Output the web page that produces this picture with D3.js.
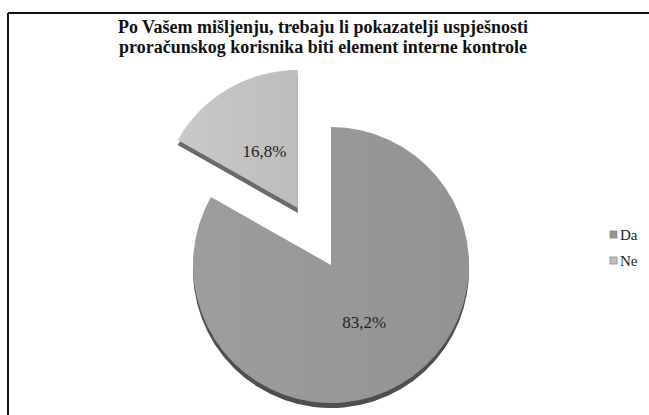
<!DOCTYPE html>
<html>
<head>
<meta charset="utf-8">
<script src="https://cdn.jsdelivr.net/npm/d3@7"></script>
<style>
    body { margin: 0; background: #fff; }
</style>
</head>
<body>
<div id="chart"></div>
<script>
const categories = ["Da", "Ne"];
const values = [83.2, 16.8];
const valueLabels = ["83,2%", "16,8%"];
const titleLines = [
    "Po Vašem mišljenju, trebaju li pokazatelji uspješnosti",
    "proračunskog korisnika biti element interne kontrole"
];

const width = 649;
const height = 415;
const cx = 331, cy = 265;
const radius = 138;
const depth = 5;
const explode = 66;
const serif = "'Liberation Serif', 'Times New Roman', serif";

const topColors = { "Da": "#969696", "Ne": "#c1c1c1" };
const sideColors = { "Da": "#4e4e4e", "Ne": "#6a6a6a" };

const svg = d3.select("#chart")
    .append("svg")
    .attr("width", width)
    .attr("height", height);

// frame (top + left lines only visible)
svg.append("line")
    .attr("x1", 8).attr("y1", 13).attr("x2", width).attr("y2", 13)
    .attr("stroke", "#111").attr("stroke-width", 2);
svg.append("line")
    .attr("x1", 8).attr("y1", 13).attr("x2", 8).attr("y2", height)
    .attr("stroke", "#111").attr("stroke-width", 2);

// title
svg.selectAll(".title")
    .data(titleLines)
    .enter()
    .append("text")
    .attr("class", "title")
    .attr("x", 323)
    .attr("y", (d, i) => 33 + i * 20)
    .attr("text-anchor", "middle")
    .attr("font-family", serif)
    .attr("font-size", "18px")
    .attr("font-weight", "bold")
    .attr("fill", "#111")
    .text(d => d);

const pie = d3.pie().sort(null).value(d => d.value).startAngle(0).endAngle(2 * Math.PI);
const data = pie(categories.map((c, i) => ({ name: c, value: values[i], label: valueLabels[i] })));

const arc = d3.arc().innerRadius(0).outerRadius(radius);
const labelArc = d3.arc().innerRadius(66).outerRadius(66);
const explodeArc = d3.arc().innerRadius(explode).outerRadius(explode);

// subtle shading gradients
const defs = svg.append("defs");
categories.forEach(c => {
    const g = defs.append("linearGradient")
        .attr("id", `grad-${c}`)
        .attr("x1", "0%").attr("y1", "0%").attr("x2", "100%").attr("y2", "0%");
    const base = d3.color(topColors[c]);
    g.append("stop").attr("offset", "0%").attr("stop-color", base.brighter(0.12));
    g.append("stop").attr("offset", "100%").attr("stop-color", base.darker(0.06));
});

const slices = svg.selectAll(".slice")
    .data(data)
    .enter()
    .append("g")
    .attr("class", "slice")
    .attr("transform", d => {
        if (d.data.name === "Ne") {
            const p = explodeArc.centroid(d);
            return `translate(${cx + p[0]}, ${cy + p[1]})`;
        }
        return `translate(${cx}, ${cy})`;
    });

// side (thickness)
slices.append("path")
    .attr("d", arc)
    .attr("transform", `translate(0, ${depth})`)
    .attr("fill", d => sideColors[d.data.name]);

// top surface
slices.append("path")
    .attr("d", arc)
    .attr("fill", d => `url(#grad-${d.data.name})`);

slices.append("text")
    .attr("transform", d => `translate(${labelArc.centroid(d)})`)
    .attr("text-anchor", "middle")
    .attr("dy", "0.35em")
    .attr("font-family", serif)
    .attr("font-size", "17px")
    .attr("fill", "#222")
    .text(d => d.data.label);

// legend
const legend = svg.selectAll(".legend")
    .data(categories)
    .enter()
    .append("g")
    .attr("class", "legend")
    .attr("transform", (d, i) => `translate(610, ${235 + i * 26})`);

legend.append("rect")
    .attr("x", 0).attr("y", -4)
    .attr("width", 7).attr("height", 7)
    .attr("fill", d => topColors[d])
    .attr("stroke", "#888").attr("stroke-width", 0.8);

legend.append("text")
    .attr("x", 10)
    .attr("dy", "0.35em")
    .attr("font-family", serif)
    .attr("font-size", "15px")
    .attr("fill", "#222")
    .text(d => d);
</script>
</body>
</html>
